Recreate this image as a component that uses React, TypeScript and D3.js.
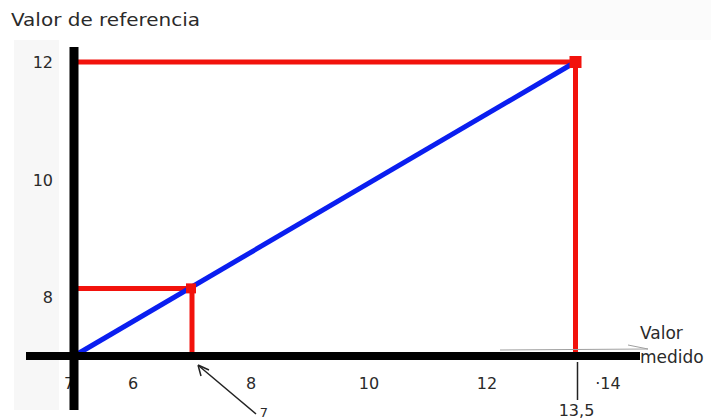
import React from "react";
import * as d3 from "d3";

const W = 711;
const H = 419;

// data
const xTicks = [6, 8, 10, 12, 14];
const xTickLabels = ["6", "8", "10", "12", "·14"];
const yTicks = [8, 10, 12];
const yTickLabels = ["8", "10", "12"];
const origin = { x: 5, y: 7 };
const pointA = { x: 7, y: 8.15 };
const pointB = { x: 13.5, y: 12 };
const calibLine = [origin, pointB];
const annotations = [
  { label: "7", x: 7 },
  { label: "13,5", x: 13.5 },
];

export default function App() {
  const x = d3.scaleLinear().domain([5, 14]).range([74, 605]);
  const y = d3.scaleLinear().domain([7, 12]).range([356, 62]);
  const line = d3
    .line<{ x: number; y: number }>()
    .x((d) => x(d.x))
    .y((d) => y(d.y));

  const red = "#f2120c";
  const blue = "#0a1ef0";
  const textCol = "#2a2a2a";
  const font = "'DejaVu Sans', sans-serif";

  const x0 = x(origin.x);
  const y0 = y(origin.y);

  return (
    <svg
      width={W}
      height={H}
      style={{ position: "fixed", left: 0, top: 0, background: "#fff" }}
      fontFamily={font}
    >
      {/* faint scan patches */}
      <rect x={14} y={40} width={45} height={370} fill="#f7f7f7" />
      <rect x={560} y={0} width={151} height={40} fill="#fbfbfb" />

      {/* title */}
      <text x={11} y={26} fontSize={17} fill={textCol} textLength={189} lengthAdjust="spacingAndGlyphs">
        Valor de referencia
      </text>

      {/* y tick labels */}
      {yTicks.map((t, i) => (
        <text key={t} x={53} y={y(t) + 6} fontSize={16} textAnchor="end" fill={textCol}>
          {yTickLabels[i]}
        </text>
      ))}

      {/* x tick labels */}
      {xTicks.map((t, i) => (
        <text key={t} x={x(t) + (i === 4 ? 3 : 0)} y={389} fontSize={16} textAnchor="middle" fill={textCol}>
          {xTickLabels[i]}
        </text>
      ))}
      <text x={69} y={389} fontSize={16} textAnchor="middle" fill={textCol}>7</text>

      {/* red reference lines, point B */}
      <line x1={x0} x2={x(pointB.x)} y1={y(pointB.y)} y2={y(pointB.y)} stroke={red} strokeWidth={5} />
      <line x1={x(pointB.x)} x2={x(pointB.x)} y1={y(pointB.y)} y2={y0} stroke={red} strokeWidth={5} />
      {/* red reference lines, point A */}
      <line x1={x0} x2={x(pointA.x)} y1={y(pointA.y)} y2={y(pointA.y)} stroke={red} strokeWidth={5} />
      <line x1={x(pointA.x)} x2={x(pointA.x)} y1={y(pointA.y)} y2={y0} stroke={red} strokeWidth={5} />

      {/* calibration line */}
      <path d={line(calibLine) || ""} stroke={blue} strokeWidth={5} fill="none" />

      {/* markers */}
      <rect x={x(pointB.x) - 6} y={y(pointB.y) - 6} width={12} height={12} fill={red} />
      <rect x={x(pointA.x) - 6} y={y(pointA.y) - 5} width={10} height={10} fill={red} />

      {/* faint arrow at x-axis end */}
      <line x1={500} x2={648} y1={350} y2={349} stroke="#a0a0a0" strokeWidth={1} />
      <path d="M628,345 L648,349" stroke="#a0a0a0" strokeWidth={1} fill="none" />

      {/* axes */}
      <line x1={26} x2={640} y1={y0} y2={y0} stroke="#000" strokeWidth={8} />
      <line x1={x0} x2={x0} y1={47} y2={410} stroke="#000" strokeWidth={9} />

      {/* axis label */}
      <text x={640} y={339} fontSize={17} fill={textCol}>Valor</text>
      <text x={640} y={363} fontSize={17} fill={textCol}>medido</text>

      {/* annotation: 7 arrow */}
      <line x1={x(annotations[0].x) + 7} y1={366} x2={256} y2={414} stroke="#222" strokeWidth={1.5} />
      <path
        d={`M${x(annotations[0].x) + 6},${365} l3,11 M${x(annotations[0].x) + 6},${365} l11,5`}
        stroke="#222"
        strokeWidth={1.5}
        fill="none"
      />
      <text x={264} y={417} fontSize={13} textAnchor="middle" fill={textCol}>
        {annotations[0].label}
      </text>

      {/* annotation: 13,5 */}
      <line x1={x(annotations[1].x) + 2} x2={x(annotations[1].x) + 2} y1={362} y2={400} stroke="#222" strokeWidth={1.5} />
      <text x={x(annotations[1].x) + 1} y={416} fontSize={16} textAnchor="middle" fill={textCol}>
        {annotations[1].label}
      </text>
    </svg>
  );
}
